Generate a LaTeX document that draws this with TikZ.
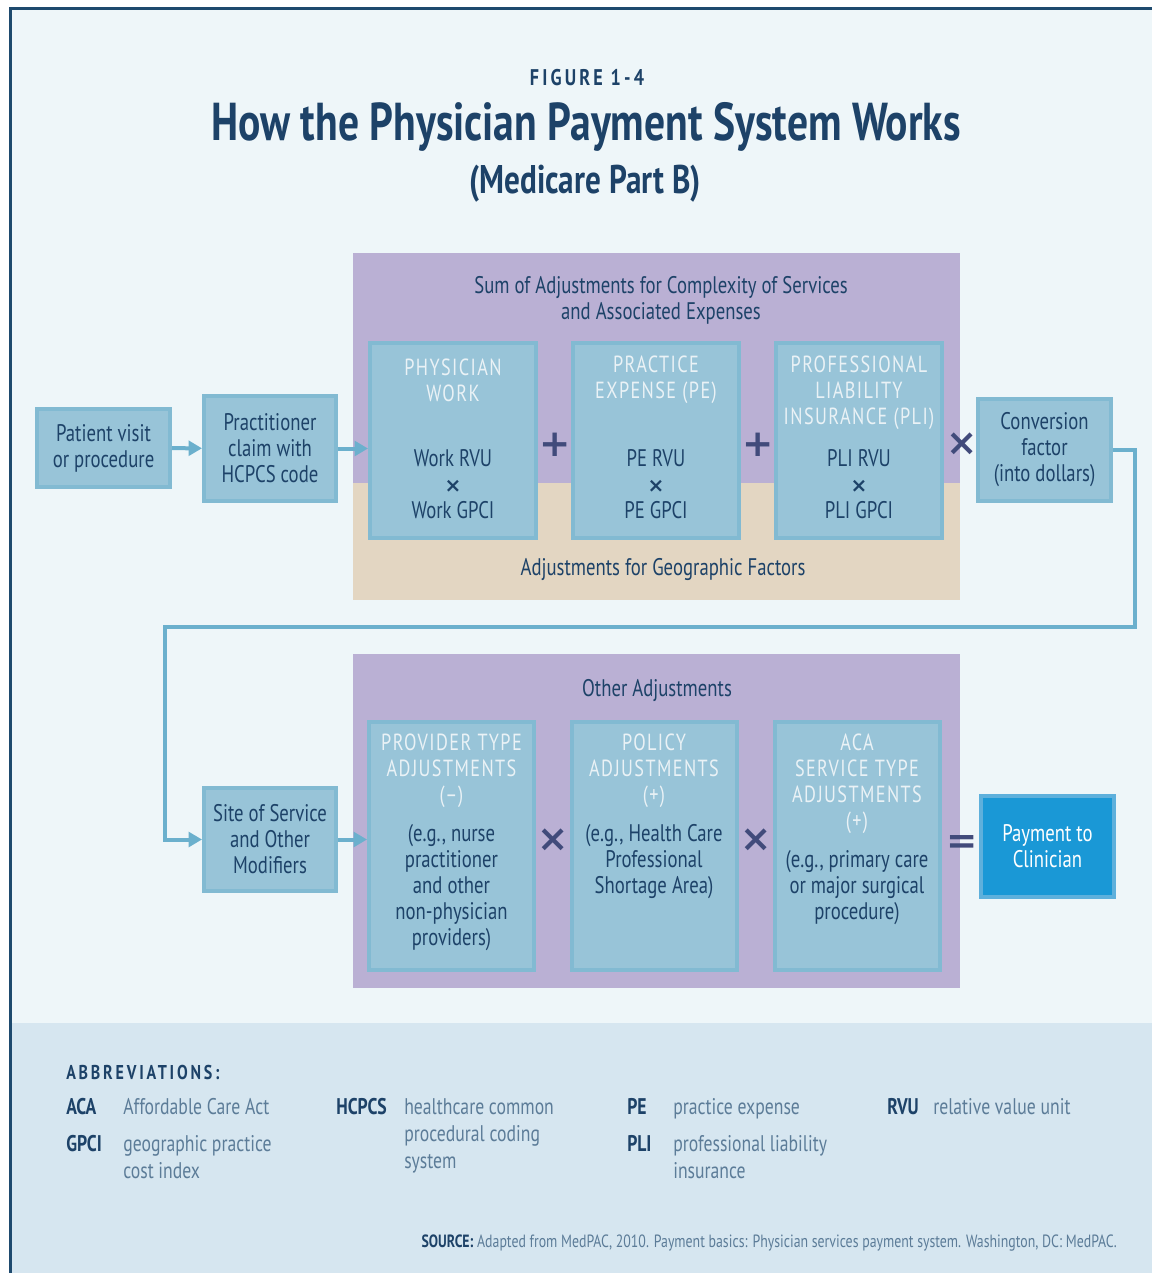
\documentclass[tikz,border=0pt]{standalone}
\usepackage{fontspec}
\setmainfont{PT Sans}[FakeStretch=0.78]
\newfontfamily\spacedfont{PT Sans}[FakeStretch=0.78,LetterSpace=6]
\newfontfamily\widefont{PT Sans}[FakeStretch=0.8,LetterSpace=14]
\newfontfamily\opfont{DejaVu Sans}
\usetikzlibrary{arrows.meta}

\definecolor{pagebg}{HTML}{EEF6F9}
\definecolor{footbg}{HTML}{D6E6F0}
\definecolor{framecol}{HTML}{1E4A6E}
\definecolor{navy}{HTML}{1D4268}
\definecolor{purp}{HTML}{BAB0D4}
\definecolor{tan}{HTML}{E3D6C2}
\definecolor{boxfill}{HTML}{98C4D8}
\definecolor{boxedge}{HTML}{82BAD2}
\definecolor{hdrtext}{HTML}{EAF2F6}
\definecolor{opcol}{HTML}{414B7B}
\definecolor{conncol}{HTML}{6BB0CD}
\definecolor{payfill}{HTML}{1A98D6}
\definecolor{payedge}{HTML}{5EB0DC}
\definecolor{deftext}{HTML}{5C7C98}

\newcommand\bdfont{\fontsize{18}{19.5}\selectfont}
\newcommand\hdfont{\spacedfont\fontsize{17.5}{19.5}\selectfont}
\newcommand\grpfont{\fontsize{18}{19.5}\selectfont}
\newcommand\abfont{\fontsize{17}{20.6}\selectfont}
\newcommand\smalltimes{{\opfont\bfseries\fontsize{15}{15}\selectfont ×}}

\tikzset{
  box/.style={draw=boxedge, fill=boxfill, line width=3pt, inner sep=0pt,
    text=navy, align=center, font=\bdfont},
  sz/.style 2 args={minimum width=#1*0.75pt, minimum height=#2*0.75pt},
  hdr/.style={text=hdrtext, align=center, font=\hdfont, inner sep=0pt},
  bodytxt/.style={text=navy, align=center, font=\bdfont, inner sep=0pt},
  grouplbl/.style={text=navy, align=center, font=\grpfont, inner sep=0pt},
  op/.style={text=opcol, font=\opfont\bfseries\fontsize{28}{28}\selectfont, inner sep=0pt},
  conn/.style={draw=conncol, line width=3pt, -{Triangle[length=10pt,width=11pt]}},
  abbr/.style={anchor=base west, inner sep=0pt, text=navy, font=\abfont\bfseries},
  abbrdef/.style={anchor=base west, inner sep=0pt, text=deftext, font=\abfont},
}

\begin{document}
\begin{tikzpicture}[x=0.75pt,y=-0.75pt]
  % page, frame and footer band
  \fill[white] (0,0) rectangle (1152,1273);
  \useasboundingbox (0,0) rectangle (1152,1273);
  \fill[pagebg] (10,8) rectangle (1152,1023);
  \fill[footbg] (10,1023) rectangle (1152,1273);
  \draw[framecol, line width=2.2pt] (10.5,1273) -- (10.5,8.5) -- (1152,8.5);

  % headings
  \node[text=navy, font=\widefont\bfseries\fontsize{17}{20}\selectfont] (figno) at (587,78) {FIGURE 1-4};
  \node[text=navy, font=\bfseries\fontsize{40}{44}\selectfont] (title) at (586,127) {How the Physician Payment System Works};
  \node[text=navy, font=\bfseries\fontsize{30}{33}\selectfont] (subtitle) at (585,184) {(Medicare Part B)};

  % background panels
  \fill[purp] (353,253) rectangle (960,483);
  \fill[tan] (353,483) rectangle (960,600);
  \fill[purp] (353,654) rectangle (960,988);

  \node[grouplbl] (sumlbl) at (661,300) {Sum of Adjustments for Complexity of Services\\and Associated Expenses};
  \node[grouplbl] (geolbl) at (663,569) {Adjustments for Geographic Factors};
  \node[grouplbl] (otherlbl) at (657,690) {Other Adjustments};

  % upper row of boxes
  \node[box, sz={133}{78}] (visit) at (103.5,448) {Patient visit\\or procedure};
  \node[box, sz={132}{105}] (claim) at (270,448.5) {Practitioner\\claim with\\HCPCS code};
  \node[box, sz={166}{195}] (work) at (453,440.5) {};
  \node[box, sz={166}{195}] (pe) at (656,440.5) {};
  \node[box, sz={166}{195}] (pli) at (859,440.5) {};
  \node[box, sz={133}{102}] (conv) at (1044.5,450) {Conversion\\factor\\(into dollars)};

  \node[hdr] (workhd) at (453,380) {PHYSICIAN\\WORK};
  \node[bodytxt] (workbd) at (453,484) {Work RVU\\\smalltimes\\Work GPCI};
  \node[hdr] (pehd) at (656,380) {PRACTICE\\EXPENSE (PE)};
  \node[bodytxt] (pebd) at (656,484) {PE RVU\\\smalltimes\\PE GPCI};
  \node[hdr] (plihd) at (859,393) {PROFESSIONAL\\LIABILITY\\INSURANCE (PLI)};
  \node[bodytxt] (plibd) at (859,484) {PLI RVU\\\smalltimes\\PLI GPCI};

  \node[op] (plusA) at (555,445) {+};
  \node[op] (plusB) at (758,445) {+};
  \node[op] (timesA) at (962,444) {×};

  % lower row of boxes
  \node[box, sz={132}{103}] (site) at (270,839.5) {Site of Service\\and Other\\Modifiers};
  \node[box, sz={165}{248}] (prov) at (451.5,846) {};
  \node[box, sz={165}{248}] (policy) at (654,846) {};
  \node[box, sz={165}{248}] (aca) at (857,846) {};
  \node[box, draw=payedge, fill=payfill, text=white, sz={133}{101}] (pay) at (1047.5,846.5) {Payment to\\Clinician};

  \node[hdr] (provhd) at (451.5,771) {PROVIDER TYPE\\ADJUSTMENTS\\(–)};
  \node[bodytxt] (provbd) at (451.5,888) {(e.g., nurse\\practitioner\\and other\\non-physician\\providers)};
  \node[hdr] (polhd) at (654,771) {POLICY\\ADJUSTMENTS\\(+)};
  \node[bodytxt] (polbd) at (654,862) {(e.g., Health Care\\Professional\\Shortage Area)};
  \node[hdr] (acahd) at (857,784) {ACA\\SERVICE TYPE\\ADJUSTMENTS\\(+)};
  \node[bodytxt] (acabd) at (857,888) {(e.g., primary care\\or major surgical\\procedure)};

  \node[op] (timesB) at (553,840) {×};
  \node[op] (timesC) at (756,840) {×};
  \node[op] (equals) at (962,844) {=};

  % connectors
  \draw[conn] (visit) -- (claim);
  \draw[conn] (claim.east) -- (claim.east -| work.west);
  \coordinate (loopR) at (1135,627);
  \coordinate (loopL) at (165,627);
  \draw[conn] (conv.east) -| (loopR) -- (loopL) |- (site.west);
  \draw[conn] (site.east) -- (site.east -| prov.west);

  % abbreviations
  \node[anchor=base west, inner sep=0pt, text=navy, font=\widefont\bfseries\fontsize{15}{17}\selectfont] (abbrhd) at (66,1079) {ABBREVIATIONS:};
  \node[abbr] (abACA) at (66,1114) {ACA};
  \node[abbrdef] (dfACA) at (123,1114) {Affordable Care Act};
  \node[abbr] (abGPCI) at (66,1151) {GPCI};
  \node[abbrdef] (dfGPCI) at (123,1151) {\begin{tabular}[t]{@{}l@{}}geographic practice\\cost index\end{tabular}};
  \node[abbr] (abHCPCS) at (336,1114) {HCPCS};
  \node[abbrdef] (dfHCPCS) at (404,1114) {\begin{tabular}[t]{@{}l@{}}healthcare common\\procedural coding\\system\end{tabular}};
  \node[abbr] (abPE) at (627,1114) {PE};
  \node[abbrdef] (dfPE) at (673,1114) {practice expense};
  \node[abbr] (abPLI) at (627,1151) {PLI};
  \node[abbrdef] (dfPLI) at (673,1151) {\begin{tabular}[t]{@{}l@{}}professional liability\\insurance\end{tabular}};
  \node[abbr] (abRVU) at (887,1114) {RVU};
  \node[abbrdef] (dfRVU) at (933,1114) {relative value unit};

  % source line
  \node[anchor=base east, inner sep=0pt, text=deftext, font=\fontsize{13.3}{15}\selectfont] (src) at (1117,1247)
    {{\bfseries\color{navy}SOURCE:} Adapted from MedPAC, 2010. Payment basics: Physician services payment system. Washington, DC: MedPAC.};
\end{tikzpicture}
\end{document}
